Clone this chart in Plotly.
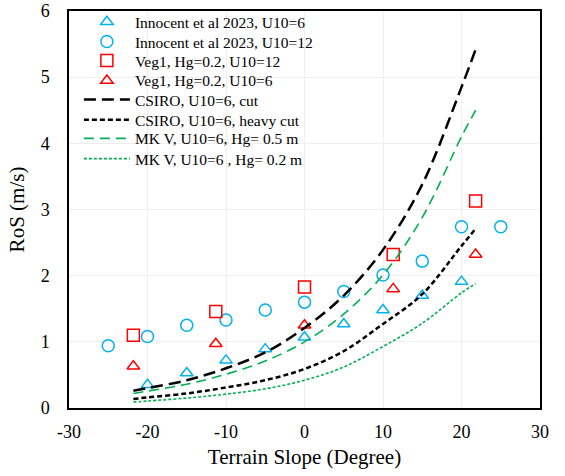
import plotly.graph_objects as go

# --- data ---
slope_inn = [-20, -15, -10, -5, 0, 5, 10, 15, 20]
ros_inn_u6 = [0.35, 0.53, 0.72, 0.89, 1.07, 1.27, 1.48, 1.70, 1.91]

slope_inn12 = [-25, -20, -15, -10, -5, 0, 5, 10, 15, 20, 25]
ros_inn_u12 = [0.94, 1.08, 1.25, 1.33, 1.48, 1.60, 1.76, 2.01, 2.22, 2.74, 2.74]

slope_veg = [-21.8, -11.3, 0, 11.3, 21.8]
ros_veg_u12 = [1.10, 1.46, 1.83, 2.32, 3.13]
ros_veg_u6 = [0.63, 0.97, 1.25, 1.80, 2.32]

slope_model = [-21.8, -20, -15, -10, -5, 0, 5, 10, 15, 20, 21.8]
ros_csiro_cut = [0.26, 0.30, 0.42, 0.60, 0.84, 1.21, 1.70, 2.39, 3.38, 4.85, 5.42]
ros_csiro_heavy = [0.136, 0.16, 0.22, 0.31, 0.42, 0.59, 0.86, 1.27, 1.72, 2.45, 2.71]
ros_mk_05 = [0.22, 0.255, 0.36, 0.51, 0.71, 1.00, 1.42, 2.01, 2.88, 4.10, 4.50]
ros_mk_02 = [0.09, 0.105, 0.15, 0.21, 0.29, 0.42, 0.62, 0.93, 1.28, 1.74, 1.88]

series_names = [
    "Innocent et al 2023, U10=6",
    "Innocent et al 2023, U10=12",
    "Veg1, Hg=0.2, U10=12",
    "Veg1, Hg=0.2, U10=6",
    "CSIRO, U10=6, cut",
    "CSIRO, U10=6, heavy cut",
    "MK V, U10=6, Hg= 0.5 m",
    "MK V, U10=6 , Hg= 0.2 m",
]

x_ticks = [-30, -20, -10, 0, 10, 20, 30]
x_ticktext = ["-30", "-20", "-10", "0", "10", "20", "30"]
y_ticks = [0, 1, 2, 3, 4, 5, 6]

CYAN = "#00B0F0"
RED = "#FF0000"
GREEN = "#00B050"
FONT = "Liberation Serif"

fig = go.Figure()
fig.add_trace(go.Scatter(x=slope_inn, y=ros_inn_u6, mode="markers",
                         name=series_names[0], legend="legend",
                         marker=dict(symbol="triangle-up-open", size=11, color=CYAN,
                                     line=dict(width=1.5, color=CYAN))))
fig.add_trace(go.Scatter(x=slope_inn12, y=ros_inn_u12, mode="markers",
                         name=series_names[1], legend="legend2",
                         marker=dict(symbol="circle-open", size=12, color=CYAN,
                                     line=dict(width=1.5, color=CYAN))))
fig.add_trace(go.Scatter(x=slope_veg, y=ros_veg_u12, mode="markers",
                         name=series_names[2], legend="legend3",
                         marker=dict(symbol="square-open", size=12, color=RED,
                                     line=dict(width=1.5, color=RED))))
fig.add_trace(go.Scatter(x=slope_veg, y=ros_veg_u6, mode="markers",
                         name=series_names[3], legend="legend4",
                         marker=dict(symbol="triangle-up-open", size=11, color=RED,
                                     line=dict(width=1.5, color=RED))))
fig.add_trace(go.Scatter(x=slope_model, y=ros_csiro_cut, mode="lines",
                         name=series_names[4], legend="legend5", line_shape="spline",
                         line=dict(color="black", width=2.5, dash="12px,6px")))
fig.add_trace(go.Scatter(x=slope_model, y=ros_csiro_heavy, mode="lines",
                         name=series_names[5], legend="legend6", line_shape="spline",
                         line=dict(color="black", width=2.5, dash="5px,3px")))
fig.add_trace(go.Scatter(x=slope_model, y=ros_mk_05, mode="lines",
                         name=series_names[6], legend="legend7", line_shape="spline",
                         line=dict(color=GREEN, width=1.6, dash="10px,6px")))
fig.add_trace(go.Scatter(x=slope_model, y=ros_mk_02, mode="lines",
                         name=series_names[7], legend="legend8", line_shape="spline",
                         line=dict(color=GREEN, width=1.6, dash="3px,2px")))

legend_y = [0.972, 0.922, 0.874, 0.824, 0.776, 0.725, 0.678, 0.627]
legend_layout = {}
for i, yy in enumerate(legend_y):
    key = "legend" if i == 0 else f"legend{i + 1}"
    legend_layout[key] = dict(x=0.021, y=yy, xanchor="left", yanchor="middle",
                              bgcolor="rgba(0,0,0,0)", borderwidth=0,
                              font=dict(family=FONT, size=15.5, color="black"),
                              itemwidth=46, tracegroupgap=0)

fig.update_layout(
    width=565, height=476,
    margin=dict(l=69, r=25, t=11, b=68, autoexpand=False),
    paper_bgcolor="white", plot_bgcolor="white",
    font=dict(family=FONT, color="black", size=18),
    showlegend=True,
    xaxis=dict(range=[-30, 30], tickvals=x_ticks, ticktext=x_ticktext,
               showgrid=True, gridcolor="#EFEFEF", gridwidth=1, automargin=False,
               zeroline=False, showline=True, linecolor="black", linewidth=1.5,
               mirror=True, ticks="", ticklabelstandoff=7,
               tickfont=dict(family=FONT, size=18),
               title=dict(text="Terrain Slope (Degree)", font=dict(family=FONT, size=21),
                          standoff=8)),
    yaxis=dict(range=[0, 6], tickvals=y_ticks, automargin=False,
               showgrid=True, gridcolor="#EFEFEF", gridwidth=1,
               zeroline=False, showline=True, linecolor="black", linewidth=1.5,
               mirror=True, ticks="", ticklabelstandoff=14,
               tickfont=dict(family=FONT, size=18),
               title=dict(text="RoS (m/s)", font=dict(family=FONT, size=21),
                          standoff=10)),
    **legend_layout,
)

fig.write_html("out.html")
